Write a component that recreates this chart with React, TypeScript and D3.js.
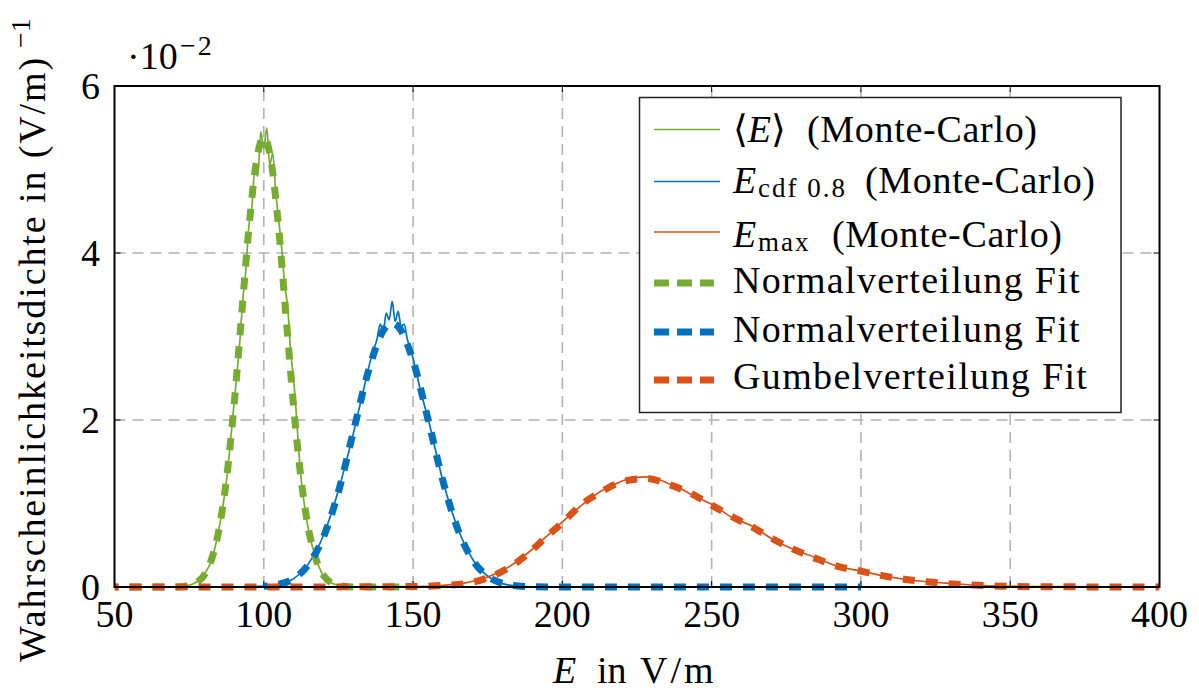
import React from "react";
import * as d3 from "d3";

// ---------- data (values in units of 1e-2 (V/m)^-1) ----------
const xTicks = [50, 100, 150, 200, 250, 300, 350, 400];
const yTicks = [0, 2, 4, 6];

// Monte-Carlo <E>
const mcMeanX = [70, 72.5, 75, 77.5, 80, 82.5, 85, 87.5, 90, 91, 92, 93, 94, 95, 96, 97, 98, 99, 100, 101, 102, 103, 104, 105, 106, 107, 108, 109, 110, 112.5, 115, 117.5, 120, 122.5, 125, 127.5, 130, 150];
const mcMeanY = [0, 0.005, 0.02, 0.06, 0.15, 0.32, 0.7, 1.27, 2.18, 2.55, 2.95, 3.45, 3.8, 4.32, 4.55, 5.0, 4.92, 5.45, 5.25, 5.5, 5.05, 5.2, 4.72, 4.4, 4.05, 3.62, 3.35, 2.82, 2.48, 1.3, 0.68, 0.34, 0.13, 0.05, 0.02, 0.005, 0, 0];

// Monte-Carlo E_cdf0.8
const mcCdfX = [92, 100, 105, 110, 115, 120, 125, 130, 133, 136, 138, 139, 140, 141, 142, 143, 144, 145, 146, 147, 148, 150, 152.5, 155, 160, 165, 170, 175, 180, 185, 190];
const mcCdfY = [0, 0.01, 0.035, 0.1, 0.28, 0.62, 1.16, 1.84, 2.3, 2.75, 2.98, 3.15, 3.05, 3.28, 3.2, 3.42, 3.18, 3.3, 3.12, 3.15, 2.98, 2.74, 2.35, 2.02, 1.27, 0.7, 0.33, 0.13, 0.04, 0.01, 0];

// Monte-Carlo E_max
const mcMaxX = [50, 100, 150, 160, 167.5, 175, 182.5, 188.5, 194.5, 200, 206.5, 213, 217, 220, 224, 228, 232, 235.5, 239, 242.5, 246, 250, 257, 263.5, 270.5, 277.5, 285, 292, 300, 308, 315, 323, 331, 339, 347, 360, 400];
const mcMaxY = [0, 0, 0.005, 0.02, 0.05, 0.12, 0.25, 0.41, 0.6, 0.78, 0.98, 1.15, 1.22, 1.27, 1.31, 1.32, 1.29, 1.24, 1.19, 1.12, 1.06, 0.99, 0.83, 0.73, 0.57, 0.45, 0.35, 0.25, 0.19, 0.13, 0.09, 0.06, 0.04, 0.02, 0.01, 0.004, 0];

// Normal fit for <E>
const fitMeanX = [50, 70, 75, 77.5, 80, 82.5, 85, 87.5, 90, 92.5, 95, 97.5, 100, 102.5, 105, 107.5, 110, 112.5, 115, 117.5, 120, 122.5, 125, 130, 150];
const fitMeanY = [0, 0, 0.018, 0.053, 0.14, 0.33, 0.69, 1.29, 2.16, 3.22, 4.29, 5.09, 5.39, 5.09, 4.29, 3.22, 2.16, 1.29, 0.69, 0.33, 0.14, 0.053, 0.018, 0, 0];

// Normal fit for E_cdf0.8
const fitCdfX = [100, 105, 110, 115, 120, 125, 130, 135, 140, 143, 145, 150, 155, 160, 165, 170, 175, 180, 185, 190, 200, 300];
const fitCdfY = [0.009, 0.033, 0.1, 0.27, 0.6, 1.14, 1.86, 2.58, 3.07, 3.16, 3.12, 2.71, 2.01, 1.27, 0.69, 0.32, 0.13, 0.042, 0.012, 0.003, 0, 0];

// Gumbel fit for E_max
const fitMaxX = [50, 100, 150, 160, 167.5, 175, 182.5, 188.5, 194.5, 200, 206.5, 213, 220, 228, 235.5, 242.5, 250, 257, 263.5, 270.5, 277.5, 285, 292, 300, 308, 315, 323, 331, 339, 347, 360, 400];
const fitMaxY = [0, 0, 0.005, 0.02, 0.04, 0.11, 0.24, 0.4, 0.595, 0.77, 0.99, 1.14, 1.26, 1.3, 1.23, 1.13, 0.98, 0.84, 0.72, 0.575, 0.45, 0.34, 0.25, 0.19, 0.13, 0.09, 0.06, 0.036, 0.02, 0.01, 0.003, 0];

const GREEN = "#77AC30";
const BLUE = "#0072BD";
const ORANGE = "#D95319";
const FONT = "Liberation Serif, Times New Roman, DejaVu Serif, serif";

const W = 1199;
const H = 690;
const L = 114.5, R = 1159.5, T = 86, B = 587;

export default function App() {
  const x = d3.scaleLinear().domain([50, 400]).range([L, R]);
  const y = d3.scaleLinear().domain([0, 6]).range([B, T]);

  const line = d3
    .line<[number, number]>()
    .x((d) => x(d[0]))
    .y((d) => y(d[1]))
    .curve(d3.curveMonotoneX);

  const zip = (xs: number[], ys: number[]) => xs.map((v, i) => [v, ys[i]] as [number, number]);

  const mcSeries = [
    { xs: mcMeanX, ys: mcMeanY, c: GREEN },
    { xs: mcCdfX, ys: mcCdfY, c: BLUE },
    { xs: mcMaxX, ys: mcMaxY, c: ORANGE },
  ];
  const fitSeries = [
    { xs: fitMeanX, ys: fitMeanY, c: GREEN },
    { xs: fitCdfX, ys: fitCdfY, c: BLUE },
    { xs: fitMaxX, ys: fitMaxY, c: ORANGE },
  ];

  const gridX = xTicks.filter((t) => t > 50 && t < 400);
  const gridY = yTicks.filter((t) => t > 0 && t < 6);

  return (
    <svg
      width={W}
      height={H}
      viewBox={`0 0 ${W} ${H}`}
      style={{ position: "absolute", left: 0, top: 0, background: "#fff", fontFamily: FONT }}
    >
      <defs>
        <clipPath id="plotclip">
          <rect x={L} y={T - 4} width={R - L} height={B - T + 8} />
        </clipPath>
      </defs>

      {/* grid */}
      <g stroke="#b3b3b3" strokeWidth={1.6} strokeDasharray="11 7">
        {gridX.map((t) => (
          <line key={"gx" + t} x1={x(t)} x2={x(t)} y1={B} y2={T} />
        ))}
        {gridY.map((t) => (
          <line key={"gy" + t} x1={L} x2={R} y1={y(t)} y2={y(t)} />
        ))}
      </g>

      {/* ticks (inside, all sides) */}
      <g stroke="#000" strokeWidth={1}>
        {xTicks.map((t) => (
          <g key={"tx" + t}>
            <line x1={x(t)} x2={x(t)} y1={B} y2={B - 6} />
            <line x1={x(t)} x2={x(t)} y1={T} y2={T + 6} />
          </g>
        ))}
        {yTicks.map((t) => (
          <g key={"ty" + t}>
            <line x1={L} x2={L + 6} y1={y(t)} y2={y(t)} />
            <line x1={R} x2={R - 6} y1={y(t)} y2={y(t)} />
          </g>
        ))}
      </g>

      {/* series */}
      <g clipPath="url(#plotclip)" fill="none">
        {mcSeries.map((s, i) => (
          <path key={"mc" + i} d={line(zip(s.xs, s.ys)) || ""} stroke={s.c} strokeWidth={1.7} />
        ))}
        {fitSeries.map((s, i) => (
          <path
            key={"fit" + i}
            d={line(zip(s.xs, s.ys)) || ""}
            stroke={s.c}
            strokeWidth={7}
            strokeDasharray="12 11"
            strokeDashoffset={8}
          />
        ))}
      </g>

      {/* frame */}
      <rect x={L} y={T} width={R - L} height={B - T} fill="none" stroke="#000" strokeWidth={2} />

      {/* tick labels */}
      <g fontSize={38} fill="#000">
        {xTicks.map((t) => (
          <text key={"lx" + t} x={x(t)} y={627} textAnchor="middle">
            {t}
          </text>
        ))}
        {yTicks.map((t) => (
          <text key={"ly" + t} x={100} y={y(t) + 13} textAnchor="end">
            {t}
          </text>
        ))}
      </g>

      {/* scale factor */}
      <text x={127} y={69} fontSize={38}>
        ·10
      </text>
      <text x={180} y={55} fontSize={28} letterSpacing={2}>
        −2
      </text>

      {/* x axis label */}
      <text x={553} y={683} fontSize={38} fontStyle="italic">
        E
      </text>
      <text x={597} y={683} fontSize={38}>
        in
      </text>
      <text x={640} y={683} fontSize={38} letterSpacing={3}>
        V/m
      </text>

      {/* y axis label */}
      <g transform="translate(45,662) rotate(-90)">
        <text x={0} y={0} fontSize={38} letterSpacing={1.9}>
          Wahrscheinlichkeitsdichte in (V/m)
        </text>
        <text x={614} y={-15} fontSize={28}>
          −1
        </text>
      </g>

      {/* legend */}
      <rect x={639.5} y={97.5} width={481.5} height={315} fill="#fff" stroke="#222" strokeWidth={1.5} />
      <g>
        <line x1={654} x2={720} y1={129.5} y2={129.5} stroke={GREEN} strokeWidth={1.7} />
        <line x1={654} x2={720} y1={181.5} y2={181.5} stroke={BLUE} strokeWidth={1.7} />
        <line x1={654} x2={720} y1={232} y2={232} stroke={ORANGE} strokeWidth={1.7} />
        <line x1={654} x2={714} y1={283} y2={283} stroke={GREEN} strokeWidth={7} strokeDasharray="15 8" />
        <line x1={654} x2={714} y1={332} y2={332} stroke={BLUE} strokeWidth={7} strokeDasharray="15 8" />
        <line x1={654} x2={714} y1={380} y2={380} stroke={ORANGE} strokeWidth={7} strokeDasharray="15 8" />
      </g>
      <g fontSize={38} fill="#000">
        {/* row 1 */}
        <text x={733} y={142}>
          ⟨<tspan fontStyle="italic">E</tspan>⟩
        </text>
        <text x={807} y={142} letterSpacing={0.7}>
          (Monte-Carlo)
        </text>
        {/* row 2 */}
        <text x={733} y={193} fontStyle="italic">
          E
        </text>
        <text x={758} y={197} fontSize={27} letterSpacing={2}>
          cdf 0.8
        </text>
        <text x={865} y={193} letterSpacing={0.7}>
          (Monte-Carlo)
        </text>
        {/* row 3 */}
        <text x={733} y={247} fontStyle="italic">
          E
        </text>
        <text x={758} y={251} fontSize={27} letterSpacing={2}>
          max
        </text>
        <text x={832} y={247} letterSpacing={0.7}>
          (Monte-Carlo)
        </text>
        {/* rows 4-6 */}
        <text x={733} y={293} letterSpacing={1.3}>
          Normalverteilung Fit
        </text>
        <text x={733} y={342} letterSpacing={1.3}>
          Normalverteilung Fit
        </text>
        <text x={733} y={389} letterSpacing={1.35}>
          Gumbelverteilung Fit
        </text>
      </g>
    </svg>
  );
}
